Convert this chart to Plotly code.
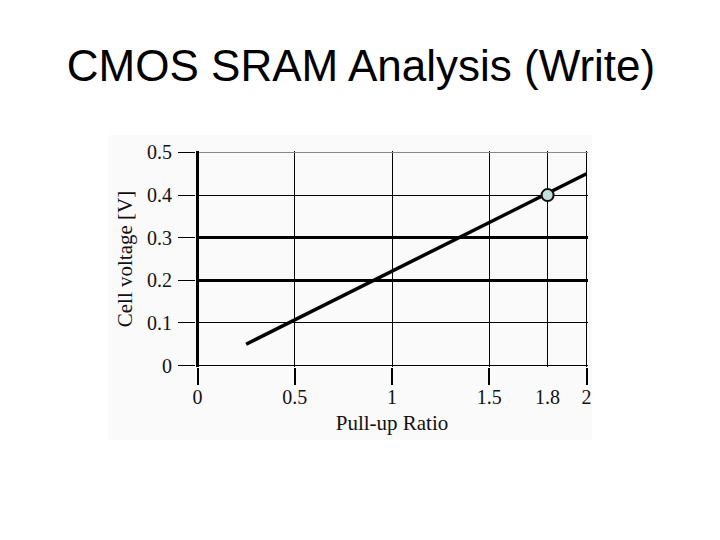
import plotly.graph_objects as go

# Data
line_x = [0.25, 2.0]
line_y = [0.05, 0.45]
point_x = [1.8]
point_y = [0.4]

x_tick_vals = [0, 0.5, 1, 1.5, 1.8, 2]
x_tick_text = ["0", "0.5", "1", "1.5", "1.8", "2"]
x_major_ticks = [0, 0.5, 1, 1.5, 2]
y_tick_vals = [0, 0.1, 0.2, 0.3, 0.4, 0.5]
y_tick_text = ["0", "0.1", "0.2", "0.3", "0.4", "0.5"]
y_thin_grid = [0, 0.1, 0.4]
y_thick_grid = [0.2, 0.3]
y_top_grid = [0.5]

X_RANGE = [-0.0077, 2.0077]
Y_RANGE = [-0.0035, 0.5035]

serif = "Liberation Serif, Times New Roman, serif"

fig = go.Figure()
# invisible helper traces so the overlay axes (ticks / grid) get drawn
invisible = dict(mode="lines", line=dict(color="rgba(0,0,0,0)", width=0),
                 hoverinfo="skip", showlegend=False)
fig.add_trace(go.Scatter(x=line_x, y=line_y, xaxis="x2", yaxis="y", **invisible))
fig.add_trace(go.Scatter(x=line_x, y=line_y, xaxis="x", yaxis="y2", **invisible))
fig.add_trace(go.Scatter(x=line_x, y=line_y, xaxis="x", yaxis="y3", **invisible))
fig.add_trace(go.Scatter(x=line_x, y=line_y, xaxis="x", yaxis="y4", **invisible))

fig.add_trace(go.Scatter(x=line_x, y=line_y, mode="lines",
                         line=dict(color="black", width=3.5), hoverinfo="skip",
                         showlegend=False, cliponaxis=False))
fig.add_trace(go.Scatter(x=point_x, y=point_y, mode="markers",
                         marker=dict(size=12, color="#c5dede",
                                     line=dict(color="#111", width=2)),
                         showlegend=False, cliponaxis=False))

common_grid = dict(zeroline=False, showline=False, automargin=False)

fig.update_layout(
    width=720, height=540,
    margin=dict(l=188, r=140, t=143, b=181, autoexpand=False),
    paper_bgcolor="white", plot_bgcolor="rgba(0,0,0,0)",
    title=dict(text="CMOS SRAM Analysis (Write)", x=0.5 - 7 / 720,
               xref="container", xanchor="center", y=1 - 57.5 / 540,
               yref="container", yanchor="middle",
               font=dict(family="Liberation Sans, Arial, sans-serif",
                         size=44, color="black")),
    xaxis=dict(range=X_RANGE, tickvals=x_tick_vals, ticktext=x_tick_text,
               ticks="outside", ticklen=12, tickcolor="rgba(0,0,0,0)",
               showgrid=True, gridcolor="black", gridwidth=1,
               zeroline=True, zerolinecolor="black", zerolinewidth=3,
               showline=False, automargin=False,
               tickfont=dict(family=serif, size=20, color="#111"),
               title=dict(text="Pull-up Ratio", standoff=8,
                          font=dict(family=serif, size=21, color="#111"))),
    xaxis2=dict(range=X_RANGE, overlaying="x", anchor="y", side="bottom",
                tickvals=x_major_ticks, ticks="outside", ticklen=17,
                tickwidth=2, tickcolor="black", showticklabels=False,
                showgrid=False, **common_grid),
    yaxis=dict(range=Y_RANGE, tickvals=y_tick_vals, ticktext=y_tick_text,
               ticks="outside", ticklen=17, tickwidth=1, tickcolor="black",
               ticklabelstandoff=2,
               showgrid=False, zeroline=False, automargin=False,
               showline=False,
               tickfont=dict(family=serif, size=20, color="#111"),
               title=dict(text="Cell voltage [V]", standoff=8,
                          font=dict(family=serif, size=21, color="#111"))),
    yaxis2=dict(range=Y_RANGE, overlaying="y", anchor="x", side="left",
                tickvals=y_thin_grid, showticklabels=False, ticks="",
                showgrid=True, gridcolor="black", gridwidth=1, **common_grid),
    yaxis3=dict(range=Y_RANGE, overlaying="y", anchor="x", side="left",
                tickvals=y_thick_grid, showticklabels=False, ticks="",
                showgrid=True, gridcolor="black", gridwidth=2.5, **common_grid),
    yaxis4=dict(range=Y_RANGE, overlaying="y", anchor="x", side="left",
                tickvals=y_top_grid, showticklabels=False, ticks="",
                showgrid=True, gridcolor="#888", gridwidth=1, **common_grid),
    shapes=[dict(type="rect", xref="paper", yref="paper",
                 x0=-0.224, x1=1.01, y0=-0.338, y1=1.074,
                 fillcolor="#fafafa", line=dict(width=0), layer="below")],
)

fig.write_html("out.html")
